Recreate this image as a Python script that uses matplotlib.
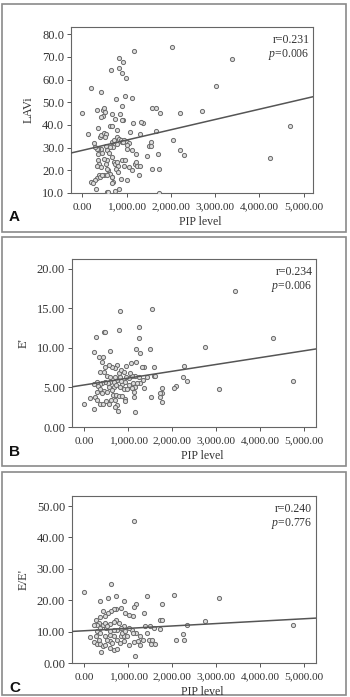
import matplotlib
matplotlib.use("Agg")
import matplotlib.pyplot as plt
from matplotlib.patches import Rectangle
from matplotlib.ticker import FuncFormatter, FixedLocator

# ---------------- data ----------------
a_x = [0,120,188,421,323,346,647,827,925,835,895,985,1165,2015,3383,3030,2707,2203,2300,2038,2203,1669,1579,1744,1669,4233,4699,1729,1737,1707,1571,1549,1496,1466,1549,1376,1316,1301,1113,963,760,887,850,910,887,1143,1075,790,624,662,459,421,459,496,519,669,744,391,413,489,534,519,662,714,775,820,865,887,940,1015,1060,1000,775,699,624,534,413,361,323,293,271,549,609,444,361,346,368,323,413,534,564,489,662,714,737,775,812,887,963,940,1060,1113,1188,1211,1241,1211,1113,1015,1301,1278,1015,865,662,624,489,368,323,286,188,248,406,444,549,677,692,662,586,564,752,812,549,586,737,827,308,925]
a_y = [45.3,36.2,56.5,54.7,46.5,38.5,64.1,69.6,67.6,65.1,62.9,60.9,72.6,74.4,69.1,57.1,46.2,29.1,26.8,33.5,45.3,47.6,47.5,45.4,37.5,25.3,39.6,10.1,20.4,27.4,20.6,32.5,30.6,26.2,30.6,40.9,41.2,36.2,52.1,52.8,51.3,48.5,44.7,42.4,42.4,40.7,36.9,37.6,39.4,39.4,43.8,43.5,46.5,47.6,45.6,45.0,42.6,34.7,35.4,36.5,36.2,34.7,32.5,33.2,34.7,34.0,33.2,32.5,33.2,32.5,32.1,31.0,31.5,30.3,30.3,30.7,29.6,29.3,29.3,30.3,32.2,28.8,27.6,27.6,27.4,24.7,22.9,21.9,21.5,22.6,24.4,25.1,25.9,23.7,22.9,23.7,21.8,24.4,24.4,21.8,21.5,20.3,22.6,23.7,21.8,27.4,28.8,29.6,21.8,17.8,15.6,16.0,17.1,18.5,18.1,18.1,16.6,15.6,14.9,14.4,17.1,17.8,17.8,17.1,14.9,14.4,20.0,20.7,20.7,19.3,10.4,10.4,10.9,11.6,11.9,32.5]

b_x = [0,136,212,273,326,424,455,477,576,803,795,1235,1235,1174,1273,1500,1538,3439,4303,2758,2280,2242,2333,2083,2045,3076,4758,1765,1765,1765,1712,1727,1576,1576,1614,1515,1333,1348,1273,1364,1311,1182,1061,1159,1083,1008,1106,1159,1121,1136,1159,917,917,894,970,856,932,1008,833,742,667,667,591,530,477,402,348,288,212,303,364,439,515,402,288,250,288,348,424,500,553,614,705,742,705,758,652,727,780,856,515,591,705,780,833,742,689,629,553,477,402,364,439,894,955,1045,818,955,727,553,629,818,1083,1197,1235,1424,227]
b_y = [2.88,3.72,9.43,11.42,8.80,8.80,11.97,11.97,9.64,14.67,12.18,12.56,11.29,9.85,9.39,9.85,14.88,17.17,11.29,10.06,7.74,6.26,5.84,5.20,4.86,4.74,5.84,4.95,4.23,3.17,4.31,3.81,7.61,6.47,6.47,3.81,5.92,4.86,5.50,7.61,7.53,8.25,8.03,6.47,6.47,6.13,5.58,5.07,4.44,3.81,1.90,3.59,3.30,4.74,4.74,5.41,5.71,5.29,5.84,5.92,5.71,5.07,5.71,5.50,5.71,5.50,5.41,5.71,5.41,5.20,4.74,4.52,4.44,4.23,4.44,3.81,3.38,2.96,2.88,3.30,2.96,3.38,3.38,2.75,2.54,2.03,4.02,4.02,3.93,3.93,6.47,6.34,6.34,6.77,7.19,7.82,7.40,7.61,7.82,7.61,8.25,6.89,6.89,6.98,7.70,6.77,6.34,6.34,5.29,5.07,4.65,5.07,4.86,5.50,6.34,6.34,2.33]

c_x = [0,136,348,530,606,727,909,1182,1424,1348,1121,1106,1008,917,833,720,667,606,530,470,424,364,1136,273,326,288,212,364,424,477,500,288,348,273,326,212,288,364,424,477,576,636,591,667,742,515,477,576,667,742,833,894,970,818,909,1008,1121,1212,1273,1333,1273,1182,1083,1008,909,833,742,667,591,780,727,667,591,515,856,932,1106,1159,1500,1576,1470,1545,1523,1598,1712,1765,1765,1727,2030,2083,2242,2280,2333,2750,3076,4758,1424,1386,379]
c_y = [22.6,8.2,19.9,20.8,25.2,21.2,19.7,18.9,21.3,15.9,17.8,15.0,15.4,15.9,17.4,17.2,17.2,16.7,15.9,15.0,16.6,14.8,45.3,13.8,12.9,12.0,12.0,11.1,12.0,12.7,11.1,10.1,9.5,8.5,7.4,6.6,6.0,6.0,5.3,5.6,6.9,6.4,4.8,4.2,4.4,7.4,8.5,9.0,8.5,7.4,8.5,8.5,8.5,6.4,6.9,5.8,6.6,6.9,5.8,7.4,8.5,9.5,10.6,11.1,11.7,11.1,10.6,10.6,10.1,12.7,13.8,13.0,12.5,11.9,9.5,10.1,9.5,2.3,11.9,11.1,7.4,7.4,6.0,6.0,13.8,13.8,18.9,10.8,21.8,7.4,9.1,7.4,12.2,13.3,20.8,12.2,9.5,11.7,3.4]

# regression lines: (intercept, slope)
fit_a = (28.8, 0.00454)
fit_b = (5.31, 0.000861)
fit_c = (10.27, 0.000764)

x_ticks = [0, 1000, 2000, 3000, 4000, 5000]
stats_a = ("r=0.231", "0.006")
stats_b = ("r=0.234", "0.006")
stats_c = ("r=0.240", "0.776")

# ---------------- figure ----------------
W, H = 350, 697
plt.rcParams['font.family'] = ['Liberation Serif', 'DejaVu Serif']
plt.rcParams['mathtext.fontset'] = 'custom'
plt.rcParams['mathtext.it'] = 'Liberation Serif:italic'
plt.rcParams['mathtext.rm'] = 'Liberation Serif'
fig = plt.figure(figsize=(W/100, H/100), dpi=100)

def frac_box(l, r, t, b):
    return [l/W, 1 - b/H, (r-l)/W, (b-t)/H]

# panel borders
for (t, b) in [(4, 232), (237, 466), (472, 695)]:
    fig.patches.append(Rectangle((2/W, 1-b/H), 344/W, (b-t)/H, transform=fig.transFigure,
                                 fill=False, edgecolor='#8a8a8a', linewidth=1.2))

panels = [
    dict(box=(71, 313, 27, 193), x=a_x, y=a_y, fit=fit_a, ylim=(10, 83.2),
         yticks=[10,20,30,40,50,60,70,80], yfmt="{:.1f}", ylabel="LAVi", stats=stats_a,
         xlim=(-256, 5210), letter="A", letter_y=217, xlabel_y=222),
    dict(box=(72, 316, 259, 427), x=b_x, y=b_y, fit=fit_b, ylim=(0, 21.2),
         yticks=[0,5,10,15,20], yfmt="{:.2f}", ylabel="E'", stats=stats_b,
         xlim=(-280, 5273), letter="B", letter_y=452, xlabel_y=456),
    dict(box=(72, 316, 496, 663), x=c_x, y=c_y, fit=fit_c, ylim=(0, 53.2),
         yticks=[0,10,20,30,40,50], yfmt="{:.2f}", ylabel="E/E'", stats=stats_c,
         xlim=(-280, 5273), letter="C", letter_y=688, xlabel_y=692),
]

for p in panels:
    ax = fig.add_axes(frac_box(*p['box']))
    ax.scatter(p['x'], p['y'], s=9, facecolors='#dcdcdc', edgecolors='#6a6a6a',
               linewidths=0.7, zorder=3)
    x0, x1 = p['xlim']
    b0, m = p['fit']
    ax.plot([x0, x1], [b0 + m*x0, b0 + m*x1], color='#555555', linewidth=1.1, zorder=4)
    ax.set_xlim(x0, x1)
    ax.set_ylim(*p['ylim'])
    ax.xaxis.set_major_locator(FixedLocator(x_ticks))
    ax.xaxis.set_major_formatter(FuncFormatter(lambda v, pos: f"{v:,.2f}"))
    ax.yaxis.set_major_locator(FixedLocator(p['yticks']))
    fmt = p['yfmt']
    ax.yaxis.set_major_formatter(FuncFormatter(lambda v, pos, fmt=fmt: fmt.format(v)))
    ax.tick_params(axis='x', labelsize=8.2, length=3, width=0.7, color='#555555',
                   labelcolor='#333333', pad=4)
    ax.tick_params(axis='y', labelsize=9, length=3, width=0.7, color='#555555',
                   labelcolor='#333333', pad=2)
    for sp in ax.spines.values():
        sp.set_color('#666666')
        sp.set_linewidth(0.8)
    ax.set_ylabel(p['ylabel'], fontsize=9, color='#333333', labelpad=5)
    l, r, t, b = p['box']
    fig.text(((l + r) / 2 + 8) / W, 1 - p['xlabel_y'] / H, "PIP level", fontsize=8.5,
             color='#333333', ha='center', va='center')
    ax.text(0.985, 0.96, p['stats'][0], transform=ax.transAxes, ha='right', va='top',
            fontsize=8.5, color='#333333')
    ax.text(0.985, 0.88, r"$\mathit{p}$=" + p['stats'][1], transform=ax.transAxes, ha='right',
            va='top', fontsize=8.5, color='#333333')
    fig.text(9 / W, 1 - p['letter_y'] / H, p['letter'], fontsize=11, fontweight='bold',
             family=['Liberation Sans', 'DejaVu Sans'], ha='left', va='center', color='#111111')

fig.savefig("out.png", dpi=100)
